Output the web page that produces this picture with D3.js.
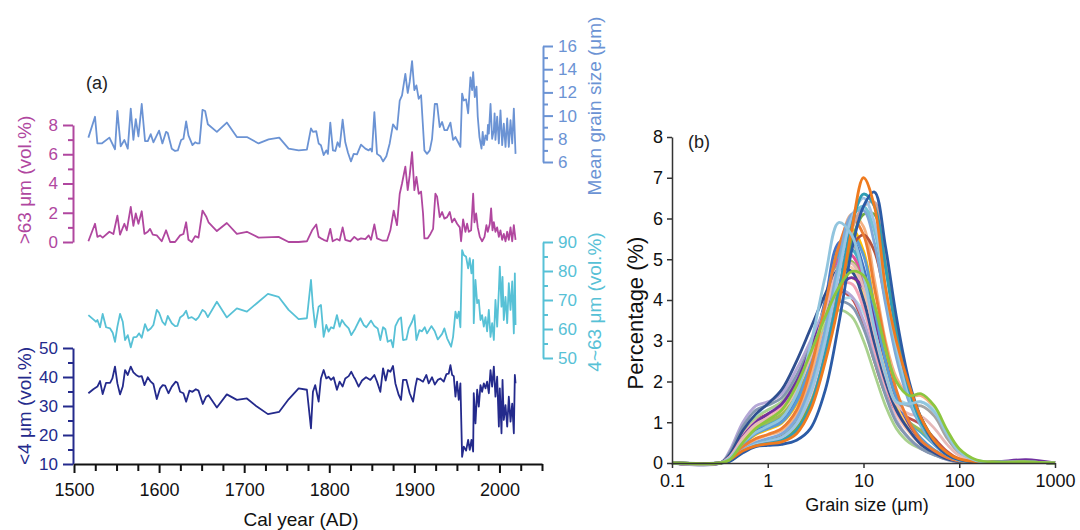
<!DOCTYPE html>
<html>
<head>
<meta charset="utf-8">
<script src="https://cdn.jsdelivr.net/npm/d3@7"></script>
<style>
  html, body { margin: 0; padding: 0; background: #fff; }
  svg { display: block; font-family: "Liberation Sans", Arial, sans-serif; }
</style>
</head>
<body>
<svg id="fig" width="1080" height="530"></svg>
<script>
// ---------- (a) grain-size proxies, [year AD, value] ----------
const meanGrainSize = [
  [1516.9,8.1],[1524.7,9.9],[1527.5,7.6],[1532.6,7.6],[1541.6,8.1],[1548.2,7.1],[1551.0,10.4],[1554.9,7.35],
  [1559.2,7.9],[1563.2,7.15],[1566.7,10.6],[1569.8,7.9],[1572.6,9.7],[1575.7,8.2],[1579.6,11.0],[1583.5,7.8],
  [1586.7,7.8],[1590.2,8.4],[1593.3,7.7],[1600.0,8.7],[1603.9,7.6],[1608.2,8.6],[1610.2,8.5],[1614.9,7.15],
  [1618.8,6.95],[1622.0,7.0],[1625.9,7.9],[1628.6,8.0],[1631.8,9.5],[1634.5,8.3],[1639.2,7.45],[1642.4,7.7],
  [1645.1,7.6],[1647.5,7.6],[1651.0,10.5],[1654.1,10.4],[1657.3,9.25],[1667.9,8.6],[1679.6,9.4],[1691.4,8.15],
  [1703.2,8.15],[1716.9,7.6],[1728.7,7.95],[1741.2,8.1],[1752.2,7.15],[1764.0,7.0],[1773.7,7.07],[1778.5,8.9],
  [1780.8,8.6],[1784.7,8.65],[1787.5,7.6],[1790.2,7.45],[1793.4,6.6],[1796.5,7.0],[1798.4,6.7],[1801.2,9.4],
  [1804.3,7.0],[1807.1,6.95],[1809.8,7.7],[1812.2,7.3],[1815.7,9.65],[1818.8,7.7],[1822.0,6.8],[1825.5,6.05],
  [1828.7,6.7],[1832.6,6.65],[1837.3,7.5],[1842.4,7.15],[1846.3,7.0],[1848.3,7.15],[1850.2,6.9],[1853.0,10.3],
  [1856.1,6.7],[1860.0,6.5],[1863.2,6.05],[1867.1,6.5],[1871.0,7.6],[1874.9,9.25],[1877.7,8.95],[1879.6,8.8],
  [1882.8,11.3],[1885.5,11.75],[1889.4,13.6],[1892.2,11.95],[1894.5,12.9],[1897.3,14.7],[1900.0,12.2],[1902.4,12.6],
  [1905.1,11.45],[1907.9,11.75],[1909.8,9.45],[1911.8,7.0],[1914.9,6.7],[1918.1,7.0],[1920.8,8.0],[1924.0,11.0],
  [1926.7,11.0],[1929.8,9.0],[1932.6,9.45],[1935.3,8.75],[1938.5,8.75],[1942.4,9.4],[1945.5,7.9],[1948.3,8.15],
  [1951.4,7.7],[1954.1,7.3],[1956.1,11.9],[1958.1,11.3],[1960.8,11.4],[1963.2,10.2],[1965.9,13.3],[1967.9,12.2],
  [1969.1,13.75],[1971.0,11.6],[1973.0,12.5],[1974.5,9.9],[1976.5,8.15],[1978.9,7.15],[1980.3,8.6],[1981.6,7.45],
  [1983.6,8.3],[1985.5,7.9],[1986.5,9.2],[1987.5,8.45],[1989.5,11.0],[1991.4,8.0],[1993.4,8.75],[1994.3,10.2],
  [1995.3,7.9],[1997.3,9.9],[1999.3,7.6],[2001.2,10.45],[2003.2,7.45],[2005.1,9.3],[2007.1,7.3],[2009.1,9.75],
  [2011.0,7.3],[2013.0,9.6],[2015.0,7.6],[2016.9,10.6],[2018.9,6.7]
];

const coarseFraction = [  // > 63 µm (vol.%)
  [1516.9,0.05],[1524.7,1.25],[1527.5,0.35],[1530.6,0.45],[1533.7,0.3],[1541.6,0.7],[1546.3,0.55],[1551.0,1.8],
  [1554.1,0.5],[1559.2,1.25],[1562.0,0.8],[1566.7,2.4],[1569.8,1.1],[1572.6,1.95],[1575.7,1.25],[1579.6,2.1],
  [1582.8,0.55],[1586.7,0.7],[1589.4,0.9],[1592.6,0.5],[1597.3,0.45],[1603.1,0.05],[1608.2,0.8],[1613.0,0.0],
  [1618.8,0.0],[1624.7,0.45],[1628.6,0.55],[1631.8,1.35],[1634.5,0.15],[1638.4,0.0],[1642.4,0.4],[1646.3,0.3],
  [1651.0,2.15],[1655.3,1.75],[1658.1,1.35],[1667.9,0.75],[1679.6,1.3],[1691.4,0.55],[1703.2,0.7],[1716.9,0.3],
  [1740.4,0.35],[1752.2,0.0],[1764.0,0.0],[1773.7,0.05],[1779.8,0.8],[1784.7,1.2],[1787.5,0.35],[1790.2,0.25],
  [1793.4,0.15],[1797.4,0.05],[1801.2,0.9],[1804.0,0.05],[1809.0,0.2],[1812.2,0.1],[1815.7,1.0],[1818.8,0.15],
  [1824.7,0.05],[1829.4,0.35],[1833.4,0.15],[1837.3,0.25],[1842.4,0.2],[1846.3,0.45],[1849.1,0.15],[1853.0,1.2],
  [1856.1,0.25],[1862.0,0.1],[1867.9,0.1],[1871.8,0.8],[1875.7,2.15],[1879.6,1.15],[1882.8,3.3],[1885.5,4.0],
  [1889.4,5.15],[1892.2,3.55],[1894.5,4.55],[1897.3,6.15],[1900.0,3.55],[1902.4,4.45],[1905.1,3.3],[1907.9,3.45],
  [1910.2,1.95],[1911.8,0.25],[1915.7,0.25],[1918.9,0.55],[1922.0,0.9],[1924.7,3.3],[1926.7,3.1],[1929.8,1.7],
  [1932.6,2.05],[1935.3,1.6],[1938.5,1.7],[1941.6,2.05],[1944.3,1.35],[1947.1,1.6],[1950.2,1.25],[1953.4,1.0],
  [1954.9,0.05],[1957.3,1.55],[1960.0,0.7],[1962.0,1.25],[1964.0,0.7],[1966.7,0.8],[1969.1,3.3],[1970.6,1.35],
  [1972.6,1.95],[1974.5,1.0],[1976.9,0.35],[1979.6,0.05],[1982.4,0.35],[1984.7,1.15],[1986.3,0.7],[1988.7,1.25],
  [1990.2,2.3],[1991.8,0.8],[1993.4,1.35],[1995.3,0.7],[1997.3,1.0],[1999.3,0.35],[2001.2,0.8],[2003.2,0.15],
  [2005.1,0.55],[2007.1,0.05],[2009.1,0.7],[2011.0,0.15],[2013.0,1.0],[2015.0,0.05],[2016.9,1.15],[2018.9,0.15]
];

const siltFraction = [  // 4~63 µm (vol.%)
  [1516.9,64.8],[1522.7,63.3],[1525.9,62.5],[1527.5,63.1],[1530.6,60.6],[1533.7,65.2],[1537.7,60.6],[1542.4,60.2],
  [1545.5,58.7],[1548.2,55.6],[1551.0,60.8],[1554.1,65.2],[1557.3,62.5],[1560.0,56.2],[1563.2,57.9],[1566.7,53.7],
  [1569.8,57.1],[1573.7,57.3],[1576.5,58.5],[1579.6,57.0],[1583.5,61.7],[1586.7,59.4],[1590.2,60.2],[1593.3,61.4],
  [1597.3,66.6],[1600.0,65.6],[1603.9,62.5],[1607.1,61.4],[1610.2,64.5],[1614.9,62.0],[1618.8,61.0],[1621.6,61.1],
  [1624.7,64.0],[1628.6,64.8],[1631.8,66.3],[1634.5,63.7],[1638.4,64.1],[1643.2,63.1],[1646.3,64.0],[1651.0,66.6],
  [1654.1,65.9],[1657.3,64.1],[1667.9,69.4],[1679.6,64.0],[1691.4,67.1],[1703.2,66.0],[1714.9,68.9],[1727.9,72.1],
  [1740.4,71.1],[1752.2,66.6],[1764.0,63.4],[1773.7,63.7],[1778.5,76.9],[1780.8,67.7],[1783.5,60.6],[1787.5,67.7],
  [1790.2,68.3],[1793.4,57.3],[1796.5,61.4],[1799.2,59.1],[1802.1,60.6],[1805.1,60.2],[1809.0,64.8],[1812.2,60.8],
  [1814.9,63.1],[1818.8,61.4],[1822.8,60.2],[1825.9,57.9],[1830.6,60.2],[1836.5,63.7],[1840.4,61.4],[1843.6,60.6],
  [1849.1,62.9],[1853.0,61.0],[1856.9,60.2],[1860.0,56.2],[1863.2,60.6],[1865.9,59.9],[1868.7,55.6],[1872.6,56.2],
  [1874.9,53.7],[1877.7,61.0],[1881.6,63.3],[1884.3,64.0],[1886.7,56.2],[1890.6,56.4],[1893.4,60.2],[1897.3,62.5],
  [1900.0,64.8],[1902.4,56.2],[1905.9,59.6],[1909.0,59.2],[1912.2,60.6],[1914.9,58.5],[1920.0,61.0],[1924.0,59.2],
  [1927.5,56.4],[1932.6,58.3],[1935.3,60.2],[1938.5,56.8],[1943.2,53.9],[1945.5,57.3],[1948.3,66.0],[1950.2,63.7],
  [1952.2,66.0],[1954.1,60.6],[1956.1,87.2],[1958.1,85.5],[1960.8,84.9],[1963.2,80.9],[1965.1,84.4],[1967.1,79.2],
  [1969.1,83.8],[1969.8,62.0],[1971.8,76.9],[1973.8,68.9],[1975.7,70.0],[1977.7,63.1],[1979.6,64.8],[1981.6,60.8],
  [1983.6,64.1],[1985.5,59.2],[1987.5,66.6],[1989.5,57.3],[1991.4,62.0],[1993.4,56.2],[1995.3,70.0],[1997.3,60.8],
  [1999.3,73.4],[2000.4,81.5],[2002.4,67.7],[2003.6,78.0],[2005.1,63.1],[2007.1,71.1],[2009.1,62.0],[2011.0,75.8],
  [2013.0,66.6],[2015.0,76.4],[2016.9,58.5],[2018.1,79.2],[2018.9,61.4]
];

const clayFraction = [  // < 4 µm (vol.%)
  [1516.9,34.4],[1522.7,35.8],[1527.5,36.7],[1530.6,38.6],[1533.7,34.1],[1537.7,38.0],[1542.4,38.0],[1545.1,39.5],
  [1548.2,43.6],[1551.0,37.8],[1554.1,34.0],[1557.3,36.7],[1560.0,42.4],[1563.2,40.7],[1566.7,43.6],[1569.8,41.6],
  [1573.0,40.7],[1576.5,40.1],[1579.6,40.3],[1582.8,37.2],[1586.7,39.9],[1590.2,38.4],[1593.3,37.6],[1597.3,32.4],
  [1601.2,36.1],[1604.3,37.2],[1607.1,37.0],[1611.0,34.4],[1614.9,36.7],[1619.6,38.4],[1621.6,38.0],[1624.7,34.9],
  [1628.6,34.4],[1631.8,31.5],[1635.7,35.3],[1639.2,34.9],[1643.2,35.8],[1646.3,35.3],[1651.4,30.7],[1655.3,33.2],
  [1658.1,33.7],[1667.9,29.5],[1679.6,34.0],[1691.4,32.1],[1703.2,32.6],[1714.9,29.8],[1727.9,27.2],[1741.2,28.0],
  [1752.2,32.3],[1764.0,36.1],[1773.7,35.6],[1778.5,22.3],[1780.8,34.9],[1783.5,37.2],[1787.5,31.5],[1790.2,39.5],
  [1793.4,42.4],[1796.5,39.5],[1799.2,40.1],[1802.1,39.0],[1805.1,39.9],[1809.0,35.6],[1812.2,38.4],[1815.7,36.7],
  [1818.8,39.5],[1822.8,40.3],[1825.9,41.8],[1828.7,40.1],[1830.6,39.2],[1834.5,36.7],[1838.5,38.8],[1843.2,39.9],
  [1848.3,39.0],[1853.0,40.7],[1856.1,38.4],[1860.0,34.9],[1863.2,43.0],[1866.3,38.8],[1869.0,42.4],[1871.8,41.8],
  [1874.9,43.8],[1877.7,37.8],[1881.6,33.8],[1884.3,32.1],[1886.7,39.0],[1890.6,39.0],[1894.5,34.4],[1898.5,31.5],
  [1901.2,36.7],[1903.2,39.5],[1907.1,39.0],[1910.2,38.4],[1914.1,40.7],[1916.9,37.8],[1920.8,39.9],[1924.0,37.4],
  [1927.5,39.0],[1930.6,39.5],[1934.5,38.4],[1937.7,41.0],[1940.4,41.2],[1942.4,44.1],[1944.4,40.7],[1946.3,40.3],
  [1948.3,33.2],[1950.2,38.4],[1952.2,32.1],[1954.1,37.8],[1956.1,12.5],[1958.1,16.0],[1960.8,14.6],[1963.2,18.3],
  [1965.1,14.9],[1967.1,18.3],[1969.1,14.3],[1969.8,34.4],[1971.8,24.0],[1973.8,35.6],[1975.7,29.8],[1977.7,37.2],
  [1979.6,34.9],[1981.6,37.8],[1983.6,36.1],[1985.5,38.4],[1987.5,34.4],[1989.5,42.4],[1991.4,36.7],[1993.4,43.6],
  [1995.3,33.2],[1997.3,40.1],[1999.3,22.9],[2000.4,36.1],[2002.4,20.6],[2003.6,39.0],[2005.1,25.2],[2007.1,30.3],
  [2009.1,22.9],[2011.0,33.2],[2013.0,24.6],[2015.0,30.8],[2016.9,20.6],[2018.1,40.7],[2018.9,37.8]
];

const yearTicks = [1500, 1600, 1700, 1800, 1900, 2000];
const yearMinorTicks = [1525, 1550, 1575, 1625, 1650, 1675, 1725, 1750, 1775, 1825, 1850, 1875, 1925, 1950, 1975, 2025, 2050];

// ---------- (b) grain-size distribution curves ----------
const grainSizes = [0.1, 0.32, 0.4, 0.55, 0.75, 1, 1.4, 2, 2.8, 4, 5.5, 7.5, 10, 13, 17, 22, 30, 40, 55, 75, 100, 150, 250, 500, 1000];
const sizeTicks = [0.1, 1, 10, 100, 1000];
const percentTicks = [0, 1, 2, 3, 4, 5, 6, 7, 8];

const curveColors = [
  "#a5a5a5", "#f4b183", "#ffc000", "#4472c4", "#4bacc6", "#e0509a", "#9bbb59", "#f8cbad",
  "#c0504d", "#addce8", "#a9d18e", "#b4a7d6", "#8497b0", "#f4a6b7", "#ffd966", "#2f4f8f",
  "#7030a0", "#5b9bd5", "#e6b9b8", "#b5533c", "#ed7d31", "#c9a3a0", "#70ad47", "#7fa7d9",
  "#76c1d4", "#9dc3e6", "#2e9db4", "#2b5ba6", "#ef7b1f", "#92c5de", "#8cc63f"
];

const distributions = [
  [0,0,0.12,0.52,0.8,0.93,1.1,1.6,2.6,4.0,5.25,5.4,4.6,3.3,2.2,1.6,1.4,1.4,1.15,0.6,0.25,0.05,0.02,0.03,0],
  [0,0,0.08,0.38,0.58,0.68,0.8,1.2,2.1,3.6,5.1,6.1,5.8,4.5,3.0,2.1,1.65,1.65,1.35,0.75,0.3,0.06,0.02,0.03,0],
  [0,0,0.1,0.45,0.7,0.82,0.98,1.45,2.4,3.9,5.3,5.75,5.2,3.9,2.6,1.6,0.95,0.55,0.3,0.13,0.05,0.02,0.02,0.03,0],
  [0,0,0.12,0.5,0.78,0.9,1.05,1.55,2.55,4.0,5.4,5.5,4.8,3.5,2.3,1.4,0.85,0.5,0.28,0.12,0.05,0.02,0.02,0.03,0],
  [0,0,0.13,0.55,0.85,0.98,1.15,1.65,2.6,3.9,5.1,5.25,4.6,3.4,2.3,1.5,1.0,0.75,0.45,0.2,0.07,0.02,0.02,0.03,0],
  [0,0,0.14,0.58,0.9,1.02,1.2,1.7,2.6,3.9,5.0,5.1,4.4,3.2,2.1,1.35,0.85,0.55,0.3,0.13,0.05,0.02,0.02,0.03,0],
  [0,0,0.13,0.56,0.88,1.0,1.2,1.7,2.55,3.8,4.85,4.95,4.3,3.1,2.1,1.4,1.0,0.8,0.5,0.22,0.08,0.02,0.02,0.03,0],
  [0,0,0.16,0.62,0.95,1.1,1.3,1.8,2.65,3.8,4.8,4.8,4.1,2.9,1.9,1.2,0.75,0.45,0.25,0.1,0.04,0.01,0.02,0.03,0],
  [0,0,0.18,0.7,1.05,1.2,1.4,1.95,2.7,3.6,4.2,4.05,3.4,2.5,1.7,1.3,1.1,0.95,0.6,0.28,0.1,0.03,0.02,0.03,0],
  [0,0,0.18,0.75,1.15,1.3,1.5,2.05,2.8,3.5,3.95,4.05,3.7,2.9,2.1,1.6,1.45,1.5,1.3,0.75,0.3,0.07,0.02,0.03,0],
  [0,0,0.15,0.7,1.1,1.3,1.5,2.0,2.7,3.4,3.75,3.6,3.0,2.2,1.4,0.85,0.5,0.35,0.2,0.1,0.04,0.01,0.02,0.03,0],
  [0,0,0.3,1.0,1.4,1.5,1.7,2.3,3.0,3.8,4.25,4.1,3.5,2.6,1.7,1.05,0.6,0.35,0.2,0.08,0.03,0.01,0.02,0.04,0],
  [0,0,0.25,0.9,1.3,1.42,1.6,2.15,2.85,3.55,3.95,3.85,3.3,2.5,1.65,1.0,0.6,0.35,0.2,0.08,0.03,0.01,0.02,0.03,0],
  [0,0,0.17,0.68,1.02,1.18,1.38,1.9,2.7,3.7,4.35,4.4,3.8,2.8,1.9,1.25,0.8,0.5,0.28,0.12,0.05,0.01,0.02,0.03,0],
  [0,0,0.14,0.6,0.92,1.08,1.28,1.8,2.6,3.6,4.3,4.55,4.2,3.3,2.3,1.5,0.9,0.55,0.3,0.13,0.05,0.01,0.02,0.03,0],
  [0,0,0.2,0.8,1.2,1.45,1.8,2.5,3.3,4.15,4.75,4.7,4.0,2.95,2.0,1.3,0.8,0.45,0.25,0.1,0.04,0.01,0.02,0.03,0],
  [0,0,0.15,0.65,1.0,1.2,1.45,2.0,2.8,3.7,4.3,4.55,4.3,3.5,2.5,1.6,0.95,0.55,0.3,0.13,0.05,0.02,0.03,0.08,0],
  [0,0,0.1,0.45,0.72,0.85,1.0,1.5,2.45,3.9,5.2,5.6,5.1,3.8,2.5,1.6,1.0,0.6,0.32,0.14,0.05,0.02,0.02,0.03,0],
  [0,0,0.15,0.62,0.95,1.1,1.3,1.8,2.6,3.75,4.75,4.9,4.3,3.2,2.15,1.45,1.2,1.15,0.85,0.45,0.18,0.04,0.02,0.03,0],
  [0,0,0.06,0.3,0.48,0.55,0.65,1.0,1.75,3.0,4.3,5.3,5.6,5.2,4.0,2.8,1.7,1.1,0.55,0.22,0.08,0.02,0.02,0.03,0],
  [0,0,0.1,0.4,0.6,0.7,0.85,1.3,2.3,3.9,5.3,6.0,5.6,4.3,2.9,1.8,1.0,0.55,0.3,0.13,0.05,0.02,0.02,0.03,0],
  [0,0,0.06,0.3,0.45,0.52,0.6,0.9,1.5,2.7,4.2,5.7,6.3,6.4,5.0,3.4,1.9,1.05,0.5,0.2,0.08,0.02,0.02,0.03,0],
  [0,0,0.05,0.28,0.45,0.52,0.6,0.85,1.45,2.6,4.0,5.4,6.1,6.1,4.8,3.3,1.9,1.1,0.55,0.22,0.08,0.02,0.02,0.03,0],
  [0,0,0.07,0.32,0.5,0.6,0.72,1.1,1.9,3.3,4.9,6.1,6.2,5.4,3.9,2.6,1.5,0.9,0.45,0.2,0.07,0.02,0.02,0.03,0],
  [0,0,0.06,0.3,0.46,0.54,0.64,0.98,1.75,3.1,4.7,6.0,6.3,5.7,4.2,2.8,1.6,0.95,0.5,0.2,0.07,0.02,0.02,0.03,0],
  [0,0,0.06,0.3,0.45,0.52,0.62,0.95,1.7,3.0,4.6,6.0,6.5,5.9,4.3,2.9,1.7,1.0,0.5,0.2,0.08,0.02,0.02,0.03,0],
  [0,0,0.06,0.28,0.42,0.48,0.55,0.8,1.4,2.7,4.2,5.8,6.6,6.3,4.8,3.2,1.8,1.0,0.5,0.2,0.08,0.02,0.02,0.03,0],
  [0,0,0.04,0.25,0.4,0.43,0.46,0.56,0.85,1.8,3.4,5.2,6.3,6.65,5.3,3.6,2.0,1.1,0.5,0.2,0.08,0.02,0.02,0.03,0],
  [0,0,0.08,0.3,0.42,0.47,0.52,0.72,1.3,2.5,3.9,5.7,7.0,6.3,4.3,3.0,1.9,1.1,0.55,0.25,0.1,0.03,0.02,0.03,0],
  [0,0,0.12,0.5,0.75,0.9,1.1,1.7,2.9,4.6,5.9,5.6,4.6,3.3,2.2,1.5,1.45,1.5,1.25,0.7,0.28,0.06,0.02,0.03,0],
  [0,0,0.08,0.5,0.85,1.05,1.3,1.9,2.7,3.6,4.3,4.7,4.6,3.9,2.8,2.0,1.65,1.7,1.4,0.8,0.35,0.08,0.02,0.03,0]
];

// ---------- drawing ----------
const svg = d3.select("#fig");
const C_MEAN = "#6b93d4", C_COARSE = "#b0479f", C_SILT = "#57c1d6", C_CLAY = "#242a8c";

const x = d3.scaleLinear().domain([1500, 2050]).range([74, 542]);
const yMean = d3.scaleLinear().domain([6, 16]).range([162, 46]);
const yCoarse = d3.scaleLinear().domain([0, 8]).range([242, 125]);
const ySilt = d3.scaleLinear().domain([50, 90]).range([358, 242]);
const yClay = d3.scaleLinear().domain([10, 50]).range([464, 348]);

function yAxis(scale, side, xPos, major, minor, color, title, titleX, titleY) {
  const maker = side === "left" ? d3.axisLeft : d3.axisRight;
  const g = svg.append("g").attr("transform", `translate(${xPos},0)`);
  g.append("g")
    .call(maker(scale).tickValues(minor).tickSize(5).tickFormat("").tickSizeOuter(0))
    .call(s => s.select(".domain").remove());
  g.append("g")
    .call(maker(scale).tickValues(major).tickSize(10).tickPadding(5).tickSizeOuter(0));
  g.selectAll("path, line").attr("stroke", color).attr("stroke-width", 2);
  g.selectAll("text").attr("fill", color).style("font-size", "17px").style("font-family", "inherit");
  svg.append("text")
    .attr("transform", `translate(${titleX},${titleY}) rotate(-90)`)
    .attr("text-anchor", "middle")
    .attr("fill", color)
    .style("font-size", "19px")
    .text(title);
}

yAxis(yCoarse, "left", 73, [0, 2, 4, 6, 8], [1, 3, 5, 7], C_COARSE, ">63 μm (vol.%)", 31, 180);
yAxis(yClay, "left", 73, [10, 20, 30, 40, 50], [15, 25, 35, 45], C_CLAY, "<4 μm (vol.%)", 31, 406);
yAxis(yMean, "right", 543, [6, 8, 10, 12, 14, 16], [7, 9, 11, 13, 15], C_MEAN, "Mean grain size (μm)", 601, 106);
yAxis(ySilt, "right", 543, [50, 60, 70, 80, 90], [55, 65, 75, 85], C_SILT, "4~63 μm (vol.%)", 601, 302);

// time axis
const gx = svg.append("g").attr("transform", "translate(0,464)");
gx.append("g")
  .call(d3.axisBottom(x).tickValues(yearMinorTicks).tickSize(7).tickFormat("").tickSizeOuter(0))
  .call(s => s.select(".domain").remove());
gx.append("g")
  .call(d3.axisBottom(x).tickValues(yearTicks).tickSize(9).tickPadding(10).tickFormat(d3.format("d")).tickSizeOuter(0));
gx.selectAll("path, line").attr("stroke", "#111").attr("stroke-width", 2);
gx.selectAll("text").attr("fill", "#111").style("font-size", "18px").style("font-family", "inherit");
svg.append("text").attr("x", 301).attr("y", 526).attr("text-anchor", "middle")
  .attr("fill", "#111").style("font-size", "19px").text("Cal year (AD)");

svg.append("text").attr("x", 86).attr("y", 89).attr("fill", "#222").style("font-size", "18px").text("(a)");

function series(data, yScale, color) {
  svg.append("path")
    .datum(data)
    .attr("fill", "none")
    .attr("stroke", color)
    .attr("stroke-width", 1.8)
    .attr("stroke-linejoin", "round")
    .attr("d", d3.line().x(d => x(d[0])).y(d => yScale(d[1])));
}
series(meanGrainSize, yMean, C_MEAN);
series(coarseFraction, yCoarse, C_COARSE);
series(siltFraction, ySilt, C_SILT);
series(clayFraction, yClay, C_CLAY);

// ---------- panel (b) ----------
const xb = d3.scaleLog().domain([0.1, 1000]).range([672, 1055]);
const yb = d3.scaleLinear().domain([0, 8]).range([463, 137]);

const curveLine = d3.line()
  .x((d, i) => xb(grainSizes[i]))
  .y(d => yb(d))
  .curve(d3.curveCatmullRom.alpha(0.5));

svg.append("g").selectAll("path")
  .data(distributions)
  .join("path")
  .attr("fill", "none")
  .attr("stroke", (d, i) => curveColors[i])
  .attr("stroke-width", 2.8)
  .attr("stroke-linejoin", "round")
  .attr("d", curveLine);

const gbx = svg.append("g").attr("transform", "translate(0,463)")
  .call(d3.axisBottom(xb).tickValues(sizeTicks).tickSize(5).tickPadding(6).tickFormat(d => String(d)).tickSizeOuter(0));
const gby = svg.append("g").attr("transform", "translate(672,0)")
  .call(d3.axisLeft(yb).tickValues(percentTicks).tickSize(5).tickPadding(4).tickFormat(d3.format("d")).tickSizeOuter(0));
[gbx, gby].forEach(g => {
  g.selectAll("path, line").attr("stroke", "#333").attr("stroke-width", 1.5);
  g.selectAll("text").attr("fill", "#111").style("font-size", "18px").style("font-family", "inherit");
});

svg.append("text").attr("x", 867).attr("y", 511).attr("text-anchor", "middle")
  .attr("fill", "#111").style("font-size", "18px").text("Grain size (μm)");
svg.append("text")
  .attr("transform", "translate(643,313) rotate(-90)")
  .attr("text-anchor", "middle")
  .attr("fill", "#111").style("font-size", "22px").text("Percentage (%)");
svg.append("text").attr("x", 688).attr("y", 148).attr("fill", "#222").style("font-size", "18px").text("(b)");
</script>
</body>
</html>
